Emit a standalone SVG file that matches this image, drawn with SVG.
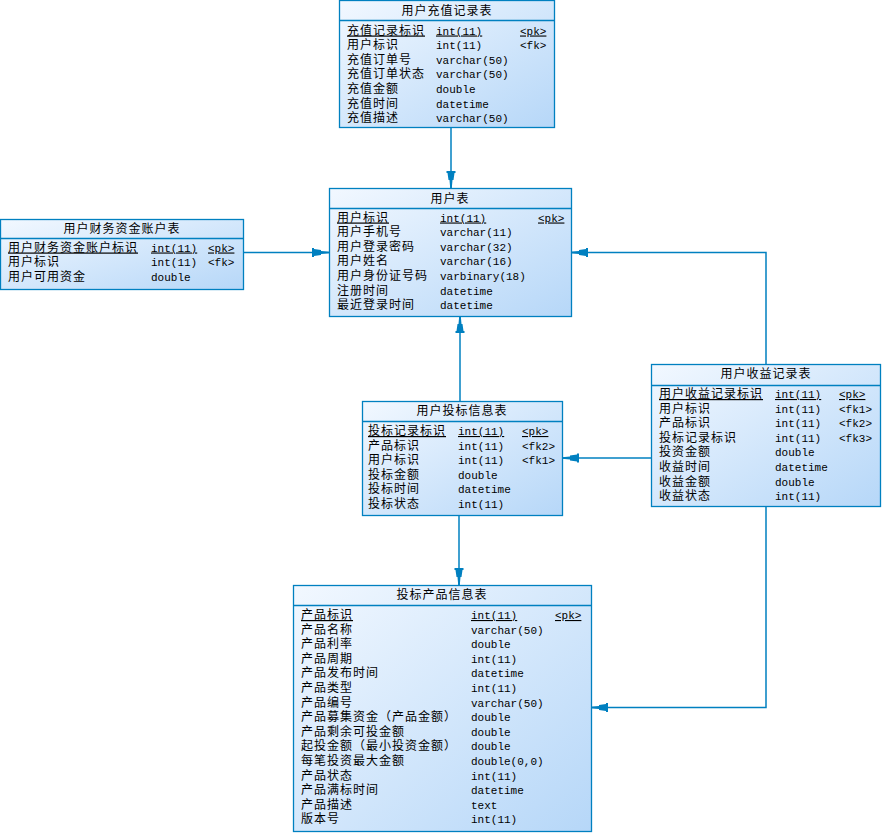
<svg xmlns="http://www.w3.org/2000/svg" width="883" height="834" viewBox="0 0 883 834">
<defs>
<linearGradient id="g" x1="0" y1="0" x2="1" y2="1">
<stop offset="0" stop-color="#f2f8ff"/>
<stop offset="1" stop-color="#b6d7f8"/>
</linearGradient>
<marker id="arr" markerUnits="userSpaceOnUse" markerWidth="18" markerHeight="10" viewBox="0 -5 18 10" refX="17" refY="0" orient="auto">
<polygon points="0,-4.5 2,-4.5 2,-3.5 9,-2.5 9,-1.5 17,-0.8 17,0.8 9,1.5 9,2.5 2,3.5 2,4.5 0,4.5" fill="#0080c0"/>
</marker>
</defs>
<style>
.box{fill:url(#g);stroke:#0080c0;stroke-width:1.3}
.sep{stroke:#0080c0;stroke-width:1.3}
.t{font-family:"Liberation Sans","Noto Sans CJK SC",sans-serif;font-size:12px;letter-spacing:1px;fill:#000}
.ti{font-family:"Liberation Sans","Noto Sans CJK SC",sans-serif;font-size:12px;letter-spacing:1px;fill:#000;text-anchor:middle}
.m{font-family:"Liberation Mono","DejaVu Sans Mono",monospace;font-size:11px;fill:#000}
.u{text-decoration:underline}
.c{fill:none;stroke:#0080c0;stroke-width:1.5;marker-end:url(#arr)}
</style>
<rect width="883" height="834" fill="#fff"/>

<g id="connectors">
<path class="c" d="M451,128 V188"/>
<path class="c" d="M243,252.5 H329"/>
<path class="c" d="M766,364 V252.5 H571"/>
<path class="c" d="M460,401 V316"/>
<path class="c" d="M651,458 H562"/>
<path class="c" d="M459,515 V585"/>
<path class="c" d="M766,506 V707.5 H591"/>
</g>

<g id="t_recharge">
<rect class="box" x="339.5" y="0.5" width="215" height="127"/>
<line class="sep" x1="339.5" y1="20.5" x2="554.5" y2="20.5"/>
<text class="ti" x="447" y="14.5">用户充值记录表</text>
<text class="t u" x="347" y="34.5">充值记录标识</text><text class="m u" x="436" y="34.5">int(11)</text><text class="m u" x="520" y="34.5">&lt;pk&gt;</text>
<text class="t" x="347" y="49.1">用户标识</text><text class="m" x="436" y="49.1">int(11)</text><text class="m" x="520" y="49.1">&lt;fk&gt;</text>
<text class="t" x="347" y="63.7">充值订单号</text><text class="m" x="436" y="63.7">varchar(50)</text>
<text class="t" x="347" y="78.3">充值订单状态</text><text class="m" x="436" y="78.3">varchar(50)</text>
<text class="t" x="347" y="92.9">充值金额</text><text class="m" x="436" y="92.9">double</text>
<text class="t" x="347" y="107.5">充值时间</text><text class="m" x="436" y="107.5">datetime</text>
<text class="t" x="347" y="122.1">充值描述</text><text class="m" x="436" y="122.1">varchar(50)</text>
</g>

<g id="t_user">
<rect class="box" x="329.5" y="188.5" width="242" height="128"/>
<line class="sep" x1="329.5" y1="208.5" x2="571.5" y2="208.5"/>
<text class="ti" x="450" y="202.5">用户表</text>
<text class="t u" x="337" y="221.5">用户标识</text><text class="m u" x="440" y="221.5">int(11)</text><text class="m u" x="538" y="221.5">&lt;pk&gt;</text>
<text class="t" x="337" y="236.1">用户手机号</text><text class="m" x="440" y="236.1">varchar(11)</text>
<text class="t" x="337" y="250.7">用户登录密码</text><text class="m" x="440" y="250.7">varchar(32)</text>
<text class="t" x="337" y="265.3">用户姓名</text><text class="m" x="440" y="265.3">varchar(16)</text>
<text class="t" x="337" y="279.9">用户身份证号码</text><text class="m" x="440" y="279.9">varbinary(18)</text>
<text class="t" x="337" y="294.5">注册时间</text><text class="m" x="440" y="294.5">datetime</text>
<text class="t" x="337" y="309.1">最近登录时间</text><text class="m" x="440" y="309.1">datetime</text>
</g>

<g id="t_account">
<rect class="box" x="0.5" y="219.5" width="243" height="70"/>
<line class="sep" x1="0.5" y1="238.5" x2="243.5" y2="238.5"/>
<text class="ti" x="122" y="232.5">用户财务资金账户表</text>
<text class="t u" x="8" y="251.5">用户财务资金账户标识</text><text class="m u" x="151" y="251.5">int(11)</text><text class="m u" x="208" y="251.5">&lt;pk&gt;</text>
<text class="t" x="8" y="266.1">用户标识</text><text class="m" x="151" y="266.1">int(11)</text><text class="m" x="208" y="266.1">&lt;fk&gt;</text>
<text class="t" x="8" y="280.7">用户可用资金</text><text class="m" x="151" y="280.7">double</text>
</g>

<g id="t_income">
<rect class="box" x="651.5" y="364.5" width="229" height="142"/>
<line class="sep" x1="651.5" y1="385.5" x2="880.5" y2="385.5"/>
<text class="ti" x="766" y="377.5">用户收益记录表</text>
<text class="t u" x="659" y="398">用户收益记录标识</text><text class="m u" x="775" y="398">int(11)</text><text class="m u" x="839" y="398">&lt;pk&gt;</text>
<text class="t" x="659" y="412.6">用户标识</text><text class="m" x="775" y="412.6">int(11)</text><text class="m" x="839" y="412.6">&lt;fk1&gt;</text>
<text class="t" x="659" y="427.2">产品标识</text><text class="m" x="775" y="427.2">int(11)</text><text class="m" x="839" y="427.2">&lt;fk2&gt;</text>
<text class="t" x="659" y="441.8">投标记录标识</text><text class="m" x="775" y="441.8">int(11)</text><text class="m" x="839" y="441.8">&lt;fk3&gt;</text>
<text class="t" x="659" y="456.4">投资金额</text><text class="m" x="775" y="456.4">double</text>
<text class="t" x="659" y="471">收益时间</text><text class="m" x="775" y="471">datetime</text>
<text class="t" x="659" y="485.6">收益金额</text><text class="m" x="775" y="485.6">double</text>
<text class="t" x="659" y="500.2">收益状态</text><text class="m" x="775" y="500.2">int(11)</text>
</g>

<g id="t_bid">
<rect class="box" x="362.5" y="401.5" width="200" height="114"/>
<line class="sep" x1="362.5" y1="421.5" x2="562.5" y2="421.5"/>
<text class="ti" x="462" y="414.5">用户投标信息表</text>
<text class="t u" x="368" y="435">投标记录标识</text><text class="m u" x="458" y="435">int(11)</text><text class="m u" x="522" y="435">&lt;pk&gt;</text>
<text class="t" x="368" y="449.6">产品标识</text><text class="m" x="458" y="449.6">int(11)</text><text class="m" x="522" y="449.6">&lt;fk2&gt;</text>
<text class="t" x="368" y="464.2">用户标识</text><text class="m" x="458" y="464.2">int(11)</text><text class="m" x="522" y="464.2">&lt;fk1&gt;</text>
<text class="t" x="368" y="478.8">投标金额</text><text class="m" x="458" y="478.8">double</text>
<text class="t" x="368" y="493.4">投标时间</text><text class="m" x="458" y="493.4">datetime</text>
<text class="t" x="368" y="508">投标状态</text><text class="m" x="458" y="508">int(11)</text>
</g>

<g id="t_product">
<rect class="box" x="293.5" y="585.5" width="298" height="246"/>
<line class="sep" x1="293.5" y1="605.5" x2="591.5" y2="605.5"/>
<text class="ti" x="442" y="598.5">投标产品信息表</text>
<text class="t u" x="301" y="619">产品标识</text><text class="m u" x="471" y="619">int(11)</text><text class="m u" x="555" y="619">&lt;pk&gt;</text>
<text class="t" x="301" y="633.6">产品名称</text><text class="m" x="471" y="633.6">varchar(50)</text>
<text class="t" x="301" y="648.2">产品利率</text><text class="m" x="471" y="648.2">double</text>
<text class="t" x="301" y="662.8">产品周期</text><text class="m" x="471" y="662.8">int(11)</text>
<text class="t" x="301" y="677.4">产品发布时间</text><text class="m" x="471" y="677.4">datetime</text>
<text class="t" x="301" y="692">产品类型</text><text class="m" x="471" y="692">int(11)</text>
<text class="t" x="301" y="706.6">产品编号</text><text class="m" x="471" y="706.6">varchar(50)</text>
<text class="t" x="301" y="721.2">产品募集资金（产品金额）</text><text class="m" x="471" y="721.2">double</text>
<text class="t" x="301" y="735.8">产品剩余可投金额</text><text class="m" x="471" y="735.8">double</text>
<text class="t" x="301" y="750.4">起投金额（最小投资金额）</text><text class="m" x="471" y="750.4">double</text>
<text class="t" x="301" y="765">每笔投资最大金额</text><text class="m" x="471" y="765">double(0,0)</text>
<text class="t" x="301" y="779.6">产品状态</text><text class="m" x="471" y="779.6">int(11)</text>
<text class="t" x="301" y="794.2">产品满标时间</text><text class="m" x="471" y="794.2">datetime</text>
<text class="t" x="301" y="808.8">产品描述</text><text class="m" x="471" y="808.8">text</text>
<text class="t" x="301" y="823.4">版本号</text><text class="m" x="471" y="823.4">int(11)</text>
</g>
</svg>
